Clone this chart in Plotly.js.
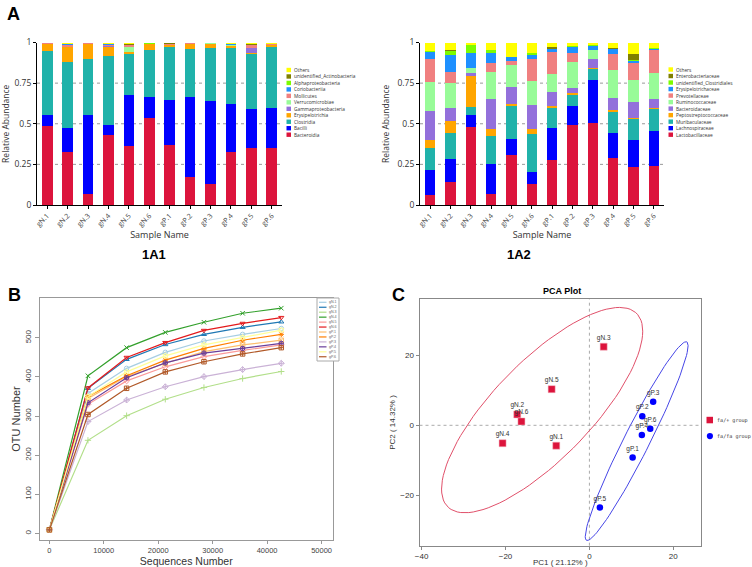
<!DOCTYPE html>
<html>
<head>
<meta charset="utf-8">
<script src="https://cdn.plot.ly/plotly-3.0.1.min.js"></script>
<style>
  body { margin: 0; background: #fff; }
  #chart { width: 752px; height: 567px; }
</style>
</head>
<body>
<div id="chart"></div>
<script>
// sample names shared by panels A
var samples = ['gN.1', 'gN.2', 'gN.3', 'gN.4', 'gN.5', 'gN.6', 'gP.1', 'gP.2', 'gP.3', 'gP.4', 'gP.5', 'gP.6'];

// 1A1 - class level relative abundance (bottom of stack first)
var classNames = ['Bacteroidia', 'Bacilli', 'Clostridia', 'Erysipelotrichia', 'Gammaproteobacteria', 'Verrucomicrobiae',
  'Mollicutes', 'Coriobacteriia', 'Alphaproteobacteria', 'unidentified_Actinobacteria', 'Others'];
var bacteroidia = [0.485, 0.326, 0.068, 0.431, 0.363, 0.533, 0.369, 0.172, 0.127, 0.326, 0.349, 0.348];
var bacilli = [0.067, 0.150, 0.484, 0.061, 0.314, 0.130, 0.279, 0.494, 0.513, 0.294, 0.240, 0.249];
var clostridia = [0.396, 0.406, 0.345, 0.427, 0.252, 0.291, 0.326, 0.292, 0.328, 0.344, 0.338, 0.373];
var erysipelotrichia = [0.042, 0.090, 0.093, 0.056, 0.012, 0.034, 0.010, 0.032, 0.024, 0.016, 0.007, 0.012];
var gammaproteobacteria = [0.001, 0.002, 0.001, 0.002, 0.002, 0.001, 0.001, 0.001, 0.001, 0.001, 0.030, 0.002];
var verrucomicrobiae = [0.001, 0.001, 0.001, 0.002, 0.030, 0.001, 0.001, 0.001, 0.001, 0.001, 0.002, 0.001];
var mollicutes = [0.002, 0.012, 0.002, 0.004, 0.010, 0.002, 0.004, 0.002, 0.001, 0.005, 0.018, 0.004];
var coriobacteriia = [0.001, 0.002, 0.001, 0.006, 0.001, 0.001, 0.001, 0.001, 0.001, 0.001, 0.001, 0.001];
var alphaproteobacteria = [0.001, 0.002, 0.001, 0.001, 0.002, 0.001, 0.001, 0.001, 0.001, 0.001, 0.001, 0.001];
var unidentifiedActino = [0.001, 0.002, 0.001, 0.002, 0.007, 0.001, 0.003, 0.001, 0.001, 0.004, 0.002, 0.002];
var othersClass = [0.003, 0.007, 0.003, 0.008, 0.007, 0.005, 0.005, 0.003, 0.002, 0.007, 0.012, 0.007];

// 1A2 - family level relative abundance (bottom of stack first)
var familyNames = ['Lactobacillaceae', 'Lachnospiraceae', 'Muribaculaceae', 'Peptostreptococcaceae', 'Bacteroidaceae',
  'Ruminococcaceae', 'Prevotellaceae', 'Erysipelotrichaceae', 'unidentified_Clostridiales', 'Enterobacteriaceae', 'Others'];
var lactobacillaceae = [0.063, 0.144, 0.482, 0.066, 0.308, 0.129, 0.277, 0.492, 0.507, 0.291, 0.236, 0.240];
var lachnospiraceae = [0.152, 0.139, 0.072, 0.184, 0.096, 0.076, 0.199, 0.119, 0.262, 0.150, 0.164, 0.217];
var muribaculaceae = [0.134, 0.158, 0.047, 0.175, 0.205, 0.232, 0.119, 0.066, 0.066, 0.133, 0.127, 0.132];
var peptostreptococcaceae = [0.048, 0.076, 0.195, 0.043, 0.011, 0.029, 0.014, 0.010, 0.010, 0.011, 0.006, 0.005];
var bacteroidaceae = [0.183, 0.078, 0.014, 0.182, 0.108, 0.149, 0.088, 0.035, 0.052, 0.073, 0.103, 0.056];
var ruminococcaceae = [0.175, 0.154, 0.031, 0.170, 0.134, 0.148, 0.107, 0.156, 0.057, 0.173, 0.133, 0.160];
var prevotellaceae = [0.143, 0.071, 0.003, 0.056, 0.026, 0.134, 0.139, 0.059, 0.002, 0.098, 0.103, 0.144];
var erysipelotrichaceae = [0.042, 0.103, 0.093, 0.061, 0.021, 0.026, 0.015, 0.037, 0.024, 0.029, 0.014, 0.006];
var unidentifiedClostridiales = [0.005, 0.027, 0.048, 0.017, 0.003, 0.010, 0.003, 0.004, 0.002, 0.004, 0.006, 0.005];
var enterobacteriaceae = [0.002, 0.003, 0.001, 0.002, 0.001, 0.001, 0.009, 0.001, 0.001, 0.004, 0.037, 0.002];
var othersFamily = [0.053, 0.047, 0.014, 0.044, 0.087, 0.066, 0.030, 0.021, 0.017, 0.034, 0.071, 0.033];

var stackColors = ['#DC143C', '#0000FF', '#20B2AA', '#FFA500', '#9370DB', '#98FB98',
  '#F08080', '#1E90FF', '#7CFC00', '#808000', '#FFFF00'];
var abundanceTicks = [0, 0.25, 0.5, 0.75, 1];

// B - rarefaction curves
var seqDepth = [10, 7100, 14200, 21300, 28400, 35500, 42600];
var curveNames = ['gN.1', 'gN.2', 'gN.3', 'gN.4', 'gN.5', 'gN.6', 'gP.1', 'gP.2', 'gP.3', 'gP.4', 'gP.5', 'gP.6'];
var otuN1 = [9, 358, 422, 463, 492, 509, 524];
var otuN2 = [9, 371, 445, 483, 509, 527, 541];
var otuN3 = [9, 238, 301, 343, 373, 396, 414];
var otuN4 = [9, 403, 475, 514, 540, 563, 576];
var otuN5 = [9, 330, 390, 426, 452, 468, 482];
var otuN6 = [9, 372, 450, 488, 519, 537, 552];
var otuP1 = [9, 345, 401, 435, 465, 482, 494];
var otuP2 = [9, 350, 403, 443, 473, 494, 509];
var otuP3 = [9, 286, 341, 375, 401, 419, 435];
var otuP4 = [9, 334, 398, 436, 461, 473, 486];
var otuP5 = [9, 350, 413, 454, 482, 501, 520];
var otuP6 = [9, 304, 371, 413, 439, 459, 475];
var curveColors = ['#A6CEE3', '#1F78B4', '#B2DF8A', '#33A02C', '#FB9A99', '#E31A1C',
  '#FDBF6F', '#FF7F00', '#CAB2D6', '#6A3D9A', '#FFFF99', '#B15928'];
var curveSymbols = ['circle-open', 'triangle-up-open', 'cross-thin-open', 'x-thin-open', 'diamond-open', 'triangle-down-open',
  'square-x-open', 'asterisk-open', 'diamond-cross-open', 'circle-cross-open', 'hexagram-open', 'square-cross-open'];

// C - PCA scores
var namesN = ['gN.1', 'gN.2', 'gN.3', 'gN.4', 'gN.5', 'gN.6'];
var pc1N = [-7.9, -17.2, 3.4, -20.7, -9.0, -16.2];
var pc2N = [-5.8, 3.1, 22.4, -5.1, 10.3, 1.1];
var namesP = ['gP.1', 'gP.2', 'gP.3', 'gP.4', 'gP.5', 'gP.6'];
var pc1P = [10.3, 12.6, 15.2, 12.5, 2.5, 14.5];
var pc2P = [-9.2, 2.6, 6.7, -2.75, -23.4, -0.95];
var groupNames = ['fa/+ group', 'fa/fa group'];

var W = 752, H = 567;
function px(x) { return x / W; }
function py(y) { return 1 - y / H; }

var traces = [];
var classSeries = [bacteroidia, bacilli, clostridia, erysipelotrichia, gammaproteobacteria, verrucomicrobiae,
  mollicutes, coriobacteriia, alphaproteobacteria, unidentifiedActino, othersClass];
classSeries.forEach(function (vals, i) {
  traces.push({ type: 'bar', x: samples, y: vals, name: classNames[i], xaxis: 'x', yaxis: 'y',
    marker: { color: stackColors[i], line: { width: 0 } } });
});
var familySeries = [lactobacillaceae, lachnospiraceae, muribaculaceae, peptostreptococcaceae, bacteroidaceae,
  ruminococcaceae, prevotellaceae, erysipelotrichaceae, unidentifiedClostridiales, enterobacteriaceae, othersFamily];
familySeries.forEach(function (vals, i) {
  traces.push({ type: 'bar', x: samples, y: vals, name: familyNames[i], xaxis: 'x2', yaxis: 'y2',
    marker: { color: stackColors[i], line: { width: 0 } } });
});

var curves = [otuN1, otuN2, otuN3, otuN4, otuN5, otuN6, otuP1, otuP2, otuP3, otuP4, otuP5, otuP6];
curves.forEach(function (vals, i) {
  traces.push({ type: 'scatter', mode: 'lines+markers', x: seqDepth, y: vals, name: curveNames[i],
    xaxis: 'x3', yaxis: 'y3', line: { color: curveColors[i], width: 1.2 },
    marker: { symbol: curveSymbols[i], size: 4.5, color: curveColors[i], line: { width: 1, color: curveColors[i] } } });
});

// confidence ellipse around each PCA group, from the group's covariance
function ellipse(xs, ys, level) {
  var n = xs.length;
  var mx = xs.reduce(function (a, b) { return a + b; }, 0) / n;
  var my = ys.reduce(function (a, b) { return a + b; }, 0) / n;
  var sxx = 0, syy = 0, sxy = 0;
  for (var i = 0; i < n; i++) {
    sxx += (xs[i] - mx) * (xs[i] - mx);
    syy += (ys[i] - my) * (ys[i] - my);
    sxy += (xs[i] - mx) * (ys[i] - my);
  }
  sxx /= n - 1; syy /= n - 1; sxy /= n - 1;
  // cholesky of covariance
  var a = Math.sqrt(sxx), b = sxy / a, c = Math.sqrt(syy - b * b);
  var ex = [], ey = [];
  for (var k = 0; k <= 100; k++) {
    var t = 2 * Math.PI * k / 100;
    var u = Math.cos(t) * level, v = Math.sin(t) * level;
    ex.push(mx + a * u);
    ey.push(my + b * u + c * v);
  }
  return { x: ex, y: ey };
}
var ellN = ellipse(pc1N, pc2N, 2.75);
var ellP = ellipse(pc1P, pc2P, 2.65);
traces.push({ type: 'scatter', mode: 'lines', x: ellN.x, y: ellN.y, xaxis: 'x4', yaxis: 'y4',
  line: { color: '#E0506A', width: 1 }, hoverinfo: 'skip' });
traces.push({ type: 'scatter', mode: 'lines', x: ellP.x, y: ellP.y, xaxis: 'x4', yaxis: 'y4',
  line: { color: '#4646E6', width: 1 }, hoverinfo: 'skip' });
traces.push({ type: 'scatter', mode: 'markers+text', x: pc1N, y: pc2N, text: namesN, name: groupNames[0],
  xaxis: 'x4', yaxis: 'y4', textposition: 'top center', textfont: { size: 6.5, color: '#333' },
  marker: { symbol: 'square', size: 7, color: '#DC143C', line: { width: 0.5, color: '#f3b0bc' } } });
traces.push({ type: 'scatter', mode: 'markers+text', x: pc1P, y: pc2P, text: namesP, name: groupNames[1],
  xaxis: 'x4', yaxis: 'y4', textposition: 'top center', textfont: { size: 6.5, color: '#333' },
  marker: { symbol: 'circle', size: 6.5, color: '#0000FF' } });

var shapes = [];
var annotations = [];

// dashed grid lines for panels A
abundanceTicks.slice(1, 4).forEach(function (t) {
  shapes.push({ type: 'line', layer: 'below', xref: 'x domain', yref: 'y', x0: 0, x1: 1, y0: t, y1: t,
    line: { color: '#999', width: 1, dash: 'dot' } });
  shapes.push({ type: 'line', layer: 'below', xref: 'x2 domain', yref: 'y2', x0: 0, x1: 1, y0: t, y1: t,
    line: { color: '#999', width: 1, dash: 'dot' } });
});

// stacked legends for panels A, top entry = top of stack
function stackLegend(names, left, top, step) {
  for (var i = names.length - 1, row = 0; i >= 0; i--, row++) {
    var yc = top + row * step;
    shapes.push({ type: 'rect', xref: 'paper', yref: 'paper', x0: px(left), x1: px(left + 4.5),
      y0: py(yc + 2.2), y1: py(yc - 2.2), fillcolor: stackColors[i], line: { width: 0 } });
    annotations.push({ xref: 'paper', yref: 'paper', x: px(left + 6), y: py(yc), xanchor: 'left', yanchor: 'middle',
      text: names[i], showarrow: false, borderpad: 0,
      font: { family: 'Open Sans', size: 4.8, color: '#333' } });
  }
}
stackLegend(classNames, 286.5, 70, 6.47);
stackLegend(familyNames, 668.5, 69.5, 6.52);

// legend box for B
shapes.push({ type: 'rect', xref: 'paper', yref: 'paper', x0: px(317), x1: px(339), y0: py(361), y1: py(298),
  line: { color: '#aaa', width: 1 }, fillcolor: 'white' });
curveNames.forEach(function (nm, i) {
  var yc = 302.3 + i * 4.95;
  shapes.push({ type: 'line', xref: 'paper', yref: 'paper', x0: px(319), x1: px(326.5), y0: py(yc), y1: py(yc),
    line: { color: curveColors[i], width: 1.2 } });
  annotations.push({ xref: 'paper', yref: 'paper', x: px(327.5), y: py(yc), xanchor: 'left', yanchor: 'middle',
    text: nm, showarrow: false, borderpad: 0, font: { family: 'Liberation Sans', size: 3.6, color: '#666' } });
});

// zero lines for C
shapes.push({ type: 'line', xref: 'x4', yref: 'y4 domain', x0: 0, x1: 0, y0: 0, y1: 1, layer: 'below',
  line: { color: '#aaa', width: 1, dash: 'dot' } });
shapes.push({ type: 'line', xref: 'x4 domain', yref: 'y4', x0: 0, x1: 1, y0: 0, y1: 0, layer: 'below',
  line: { color: '#aaa', width: 1, dash: 'dot' } });

// legend for C
shapes.push({ type: 'rect', xref: 'paper', yref: 'paper', x0: px(706.5), x1: px(713), y0: py(423.3), y1: py(416.8),
  fillcolor: '#DC143C', line: { width: 0 } });
shapes.push({ type: 'circle', xref: 'paper', yref: 'paper', x0: px(706.8), x1: px(713), y0: py(439.2), y1: py(433),
  fillcolor: '#0000FF', line: { width: 0 } });
groupNames.forEach(function (g, i) {
  annotations.push({ xref: 'paper', yref: 'paper', x: px(716), y: py(420 + i * 16), xanchor: 'left', yanchor: 'middle',
    text: g, showarrow: false, borderpad: 0, font: { family: 'DejaVu Sans Mono', size: 5.1, color: '#333' } });
});

// panel letters and sub-titles
function label(text, x, y, size) {
  annotations.push({ xref: 'paper', yref: 'paper', x: px(x), y: py(y), xanchor: 'center', yanchor: 'middle',
    text: '<b>' + text + '</b>', showarrow: false, font: { family: 'Liberation Sans', size: size, color: '#000' } });
}
label('A', 13, 14, 18);
label('B', 14, 295, 18);
label('C', 398, 295, 18);
label('1A1', 154, 254, 13);
label('1A2', 519, 254, 13);
label('PCA Plot', 562, 291, 9);

var barX = {
  type: 'category', showline: true, linecolor: '#000', linewidth: 1, ticks: 'outside', ticklen: 3,
  tickcolor: '#000', tickangle: -45, tickfont: { family: 'Open Sans', size: 7, color: '#444' },
  showgrid: false, zeroline: false, range: [-0.5, 11.5],
  title: { text: 'Sample Name', font: { family: 'Open Sans', size: 9, color: '#333' }, standoff: 1 }
};
var barY = {
  range: [0, 1], tickvals: abundanceTicks, ticktext: ['0', '0.25', '0.5', '0.75', '1'],
  showline: true, linecolor: '#000', linewidth: 1, ticks: 'outside', ticklen: 3, tickcolor: '#000',
  tickfont: { family: 'Open Sans', size: 8.5, color: '#333' }, showgrid: false, zeroline: false,
  title: { text: 'Relative Abundance', font: { family: 'Open Sans', size: 8.5, color: '#333' }, standoff: 6 }
};

var layout = {
  width: W, height: H, margin: { l: 0, r: 0, t: 0, b: 0 },
  paper_bgcolor: 'white', plot_bgcolor: 'rgba(0,0,0,0)',
  showlegend: false, barmode: 'stack', bargap: 0.48,
  font: { family: 'Liberation Sans' },
  xaxis: Object.assign({}, barX, { domain: [px(37), px(282)], anchor: 'y' }),
  yaxis: Object.assign({}, barY, { domain: [py(205), py(42.5)], anchor: 'x' }),
  xaxis2: Object.assign({}, barX, { domain: [px(420), px(664)], anchor: 'y2' }),
  yaxis2: Object.assign({}, barY, { domain: [py(205), py(42.5)], anchor: 'x2' }),
  xaxis3: {
    domain: [px(39.5), px(333)], anchor: 'y3', range: [-1800, 52100],
    tickvals: [0, 10000, 20000, 30000, 40000, 50000], tickformat: 'd', showline: true, mirror: true, linecolor: '#999',
    ticks: 'outside', ticklen: 3, tickcolor: '#999', showgrid: false, zeroline: false,
    tickfont: { size: 7.5, color: '#444' },
    title: { text: 'Sequences Number', font: { size: 10.5, color: '#333' }, standoff: 2 }
  },
  yaxis3: {
    domain: [py(540), py(298)], anchor: 'x3', range: [-17, 602],
    tickvals: [0, 100, 200, 300, 400, 500], tickangle: -90, showline: true, mirror: true, linecolor: '#999',
    ticks: 'outside', ticklen: 4, tickcolor: '#999', showgrid: false, zeroline: false,
    tickfont: { size: 8, color: '#444' },
    title: { text: 'OTU Number', font: { size: 11, color: '#333' }, standoff: 1 }
  },
  xaxis4: {
    domain: [px(419.5), px(701)], anchor: 'y4', range: [-40.5, 26.6],
    tickvals: [-40, -20, 0, 20], showline: true, mirror: true, linecolor: '#888',
    ticks: 'outside', ticklen: 3, tickcolor: '#888', showgrid: false, zeroline: false,
    tickfont: { size: 8, color: '#333' },
    title: { text: 'PC1 ( 21.12% )', font: { size: 8, color: '#333' }, standoff: 1 }
  },
  yaxis4: {
    domain: [py(545.7), py(299.3)], anchor: 'x4', range: [-34.3, 35.9],
    tickvals: [-20, 0, 20], showline: true, mirror: true, linecolor: '#888',
    ticks: 'outside', ticklen: 3, tickcolor: '#888', showgrid: false, zeroline: false,
    tickfont: { size: 8, color: '#333' },
    title: { text: 'PC2 ( 14.32% )', font: { size: 8, color: '#333' }, standoff: 3 }
  },
  shapes: shapes,
  annotations: annotations
};

Plotly.newPlot('chart', traces, layout, { displayModeBar: false, staticPlot: true });
</script>
</body>
</html>
